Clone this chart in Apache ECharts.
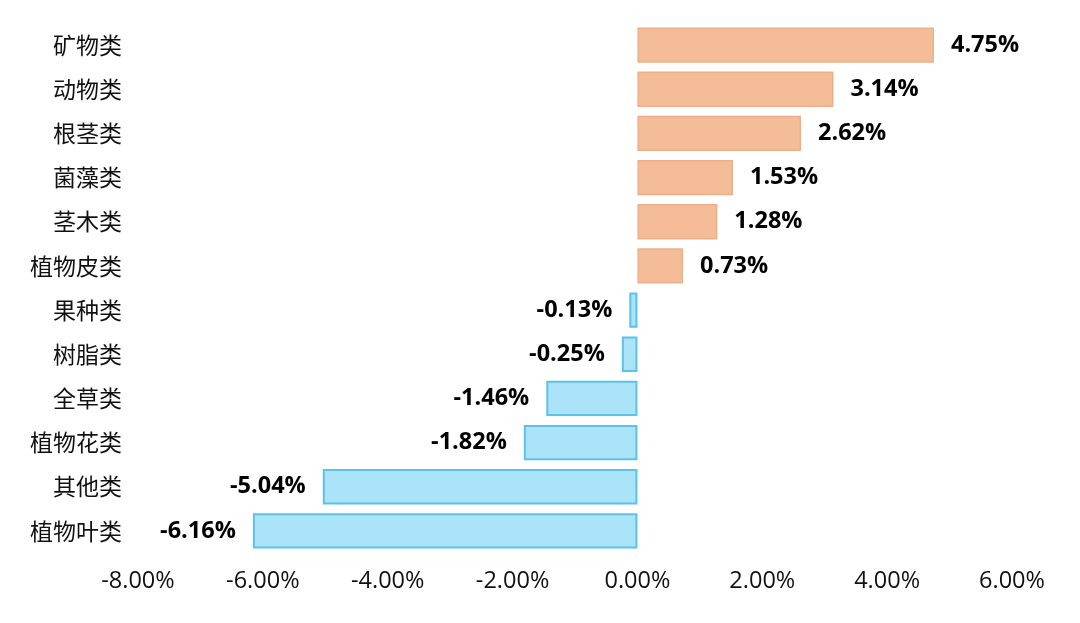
<!DOCTYPE html>
<html><head><meta charset="utf-8">
<script src="https://cdn.jsdelivr.net/npm/echarts@6/dist/echarts.min.js"></script>
<style>html,body{margin:0;padding:0;background:#fff}#c{width:1080px;height:623px}</style>
</head><body><div id="c"></div>
<script>
const categories = ['矿物类','动物类','根茎类','菌藻类','茎木类','植物皮类','果种类','树脂类','全草类','植物花类','其他类','植物叶类'];
const values = [4.75, 3.14, 2.62, 1.53, 1.28, 0.73, -0.13, -0.25, -1.46, -1.82, -5.04, -6.16];
const xMin = -8, xMax = 6, xStep = 2;

const cjkFont = '"Noto Sans CJK SC", "Noto Sans", sans-serif';
const numFont = '"Open Sans", "Noto Sans", sans-serif';
const chart = echarts.init(document.getElementById('c'));
chart.setOption({
  animation: false,
  grid: {left: 138, right: 68, top: 23, bottom: 70},
  xAxis: {
    type: 'value', min: xMin, max: xMax, interval: xStep,
    axisLine: {show: false}, axisTick: {show: false}, splitLine: {show: false},
    axisLabel: {fontFamily: numFont, fontSize: 23.5, color: '#111', margin: 16,
      formatter: v => v.toFixed(2) + '%'}
  },
  yAxis: {
    type: 'category', data: categories, inverse: true,
    axisLine: {show: false}, axisTick: {show: false},
    axisLabel: {fontFamily: cjkFont, fontSize: 23, color: '#111', margin: 16}
  },
  series: [{
    type: 'bar', barWidth: '80%',
    data: values.map(v => ({
      value: v,
      itemStyle: v >= 0
        ? {color: '#F4BD98', borderColor: '#EAB08A', borderWidth: 1.5}
        : {color: '#ABE3F8', borderColor: '#5BC2E8', borderWidth: 2},
      label: {position: v >= 0 ? 'right' : 'left'}
    })),
    label: {show: true, fontFamily: numFont, fontSize: 23.5, fontWeight: 'bold', color: '#000', distance: 17,
      formatter: p => p.value.toFixed(2) + '%'}
  }]
});
</script></body></html>
